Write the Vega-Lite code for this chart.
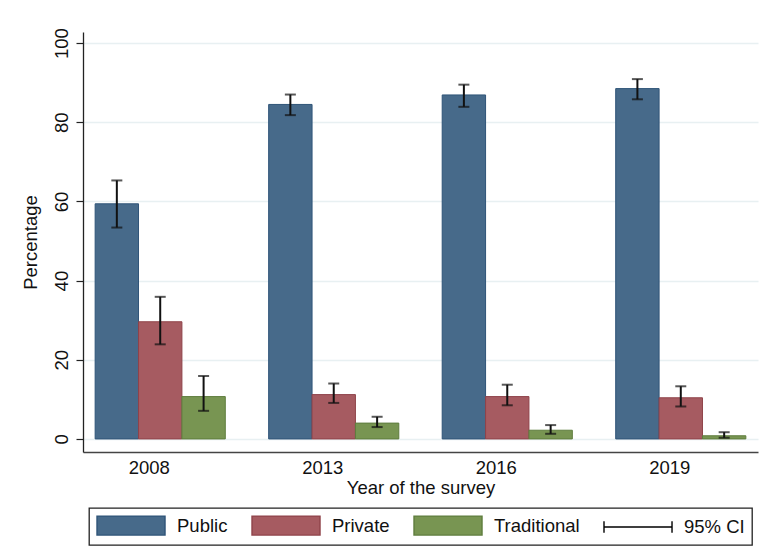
{
  "$schema": "https://vega.github.io/schema/vega-lite/v6.json",
  "width": 675,
  "height": 420,
  "autosize": "none",
  "padding": {"left": 83, "top": 32, "right": 8, "bottom": 108},
  "background": "white",
  "config": {
    "font": "Liberation Sans",
    "view": {"stroke": null},
    "axis": {"labelFont": "Liberation Sans", "titleFont": "Liberation Sans", "labelColor": "#111", "titleColor": "#111", "titleFontWeight": "normal"}
  },
  "data": {
    "values": [
      {"year": "2008", "type": "Public", "value": 59.4, "lo": 53.4, "hi": 65.3},
      {"year": "2008", "type": "Private", "value": 29.6, "lo": 23.9, "hi": 35.9},
      {"year": "2008", "type": "Traditional", "value": 10.7, "lo": 7.1, "hi": 15.9},
      {"year": "2013", "type": "Public", "value": 84.5, "lo": 81.8, "hi": 87.0},
      {"year": "2013", "type": "Private", "value": 11.2, "lo": 9.1, "hi": 14.0},
      {"year": "2013", "type": "Traditional", "value": 4.0, "lo": 3.0, "hi": 5.6},
      {"year": "2016", "type": "Public", "value": 86.9, "lo": 83.9, "hi": 89.5},
      {"year": "2016", "type": "Private", "value": 10.7, "lo": 8.5, "hi": 13.7},
      {"year": "2016", "type": "Traditional", "value": 2.2, "lo": 1.3, "hi": 3.5},
      {"year": "2019", "type": "Public", "value": 88.5, "lo": 85.8, "hi": 90.9},
      {"year": "2019", "type": "Private", "value": 10.4, "lo": 8.2, "hi": 13.3},
      {"year": "2019", "type": "Traditional", "value": 0.8, "lo": 0.3, "hi": 1.7}
    ]
  },
  "encoding": {
    "x": {
      "field": "year", "type": "nominal",
      "scale": {"paddingInner": 0.25, "paddingOuter": 0.07},
      "axis": {
        "title": "Year of the survey", "labelAngle": 0, "labelFontSize": 18.5, "titleFontSize": 18.5,
        "ticks": false, "labelPadding": 6, "titlePadding": 2, "labelOffset": -11,
        "domainColor": "#444", "domainWidth": 1.5
      }
    },
    "xOffset": {"field": "type", "type": "nominal", "scale": {"domain": ["Public", "Private", "Traditional"]}}
  },
  "layer": [
    {
      "mark": {"type": "bar", "strokeWidth": 1},
      "encoding": {
        "y": {
          "field": "value", "type": "quantitative",
          "scale": {"domain": [-3.3, 102.8], "nice": false, "zero": false},
          "axis": {
            "title": "Percentage", "values": [0, 20, 40, 60, 80, 100],
            "labelAngle": -90, "labelAlign": "center", "labelBaseline": "alphabetic",
            "labelFontSize": 18.5, "titleFontSize": 18.5, "labelPadding": 9, "titlePadding": 12,
            "tickSize": 7, "tickColor": "#222", "tickWidth": 1.2,
            "domainColor": "#222", "domainWidth": 1.3,
            "grid": true, "gridColor": "#e8f0f2", "gridWidth": 1.3
          }
        },
        "color": {
          "field": "type", "type": "nominal",
          "scale": {
            "domain": ["Public", "Private", "Traditional", "95% CI"],
            "range": ["#476a8a", "#a65b61", "#789552", "#000000"]
          },
          "legend": {
            "title": null, "orient": "none", "legendX": 6, "legendY": 476,
            "direction": "horizontal", "columns": 4, "columnPadding": 21,
            "padding": 7, "strokeColor": "#222",
            "symbolSize": 361, "labelFontSize": 18.5, "labelOffset": 60, "labelColor": "#111",
            "labelFont": "Liberation Sans", "labelLimit": 200,
            "encode": {
              "legend": {"update": {"strokeWidth": {"value": 1.3}}},
              "symbols": {
                "update": {
                  "shape": {"signal": "datum.value === '95% CI' ? 'M-1,0H6.16M-1,-0.6V0.6M6.16,-0.6V0.6' : 'M-1,-1H6.16V1H-1Z'"},
                  "fill": {"signal": "datum.value === '95% CI' ? 'transparent' : scale('color', datum.value)"},
                  "stroke": {"signal": "datum.value === '95% CI' ? '#000' : datum.value === 'Public' ? '#2f5478' : datum.value === 'Private' ? '#8f434a' : '#5f7d3e'"},
                  "strokeWidth": {"value": 1.4},
                  "opacity": {"value": 1}
                }
              }
            }
          }
        },
        "stroke": {
          "field": "type", "type": "nominal",
          "scale": {"domain": ["Public", "Private", "Traditional"], "range": ["#2f5478", "#8f434a", "#5f7d3e"]},
          "legend": null
        }
      }
    },
    {
      "mark": {"type": "rule", "color": "#111", "strokeWidth": 2},
      "encoding": {
        "y": {"field": "lo", "type": "quantitative"},
        "y2": {"field": "hi"}
      }
    },
    {
      "mark": {"type": "tick", "color": "#111", "thickness": 2, "size": 11},
      "encoding": {"y": {"field": "lo", "type": "quantitative"}}
    },
    {
      "mark": {"type": "tick", "color": "#111", "thickness": 2, "size": 11},
      "encoding": {"y": {"field": "hi", "type": "quantitative"}}
    }
  ]
}
